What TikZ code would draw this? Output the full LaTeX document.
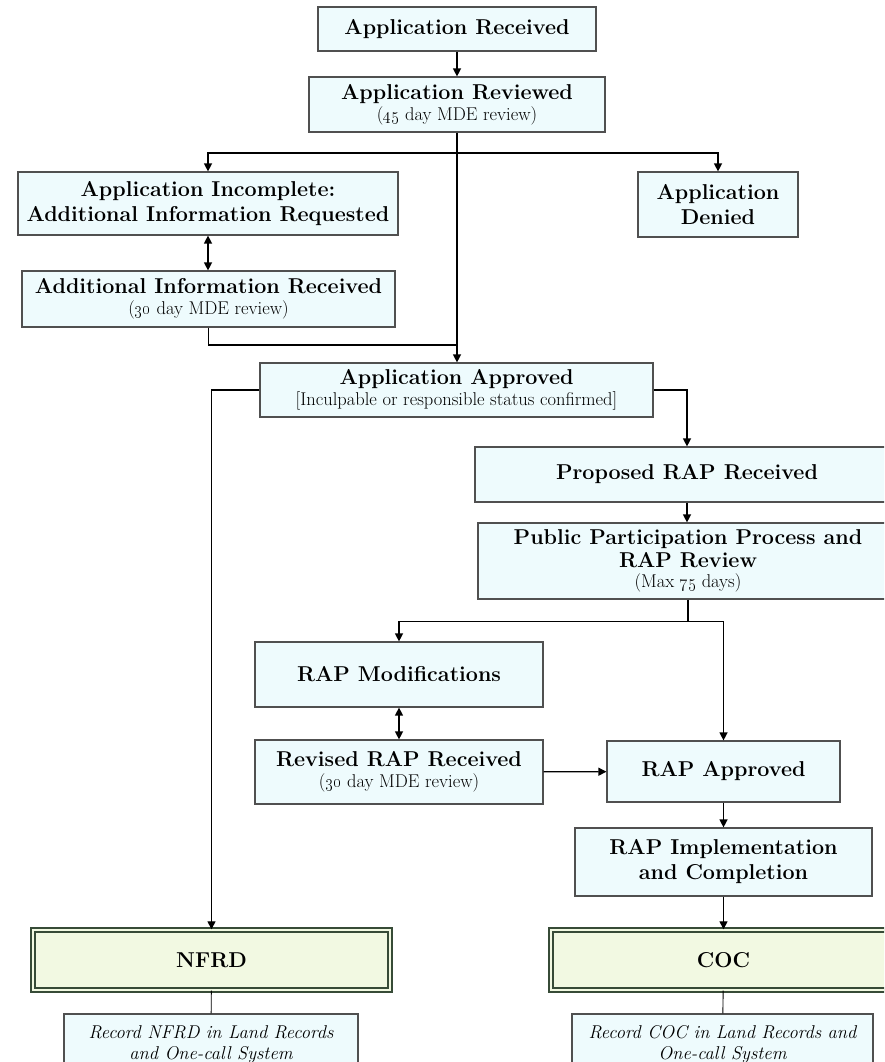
\documentclass[tikz,border=0pt]{standalone}
\usetikzlibrary{arrows.meta,calc}
\definecolor{boxfill}{RGB}{238,251,253}
\definecolor{boxline}{RGB}{80,80,80}
\definecolor{endfill}{RGB}{242,249,226}
\definecolor{endline}{RGB}{55,75,55}
\newcommand\titlefont{\fontsize{21.5}{25}\selectfont\bfseries}
\newcommand\subln[1]{{\fontsize{18.5}{20}\selectfont\mdseries #1}}
\tikzset{
    box/.style={draw=boxline,fill=boxfill,line width=1.2pt,align=center,inner sep=0pt,font=\titlefont},
    endbox/.style={box,draw=endline,fill=endfill,double=endfill,double distance=2.4pt,line width=1.4pt},
    recbox/.style={box,font=\fontsize{18.5}{21}\selectfont\itshape},
    arr/.style={-{Triangle[length=8pt,width=8pt]},line width=1.3pt},
    dblarr/.style={{Triangle[length=8pt,width=8pt]}-{Triangle[length=8pt,width=8pt]},line width=1.3pt},
    link/.style={line width=1.3pt},
  }
\begin{document}
\begin{tikzpicture}[x=1pt,y=-1pt]
	          %cadre de l'image (pixels, y vers le bas)
	          \useasboundingbox (0,0) rectangle (884,1062);
	          \clip (0,0) rectangle (884,1062);
	          \fill[white] (0,0) rectangle (884,1062);

	          %demande
	          \node[box,minimum width=278,minimum height=44] (recv) at (457,29) {Application Received};
	          \node[box,minimum width=296,minimum height=55] (rev) at (457,104.5) {Application Reviewed\\[-4pt]\subln{(\oldstylenums{45} day MDE review)}};
	          \node[box,minimum width=380,minimum height=63] (incomp) at (208,203.5) {Application Incomplete:\\Additional Information Requested};
	          \node[box,minimum width=373,minimum height=56] (addl) at (208.5,299) {Additional Information Received\\[-4pt]\subln{(\oldstylenums{30} day MDE review)}};
	          \node[box,minimum width=160,minimum height=65] (denied) at (718,204.5) {Application\\Denied};
	          \node[box,minimum width=393,minimum height=54] (appr) at (456.5,390) {Application Approved\\[-4pt]\subln{[Inculpable or responsible status confirmed]}};

	          %RAP
	          \node[box,minimum width=424,minimum height=55] (prop) at (687,474.5) {Proposed RAP Received};
	          \node[box,minimum width=420,minimum height=76] (pub) at (688,561) {Public Participation Process and\\[-2pt]RAP Review\\[-5pt]\subln{(Max \oldstylenums{75} days)}};
	          \node[box,minimum width=288,minimum height=65] (mod) at (399,674.5) {RAP Modifications};
	          \node[box,minimum width=288,minimum height=64] (rev2) at (399,772) {Revised RAP Received\\[-4pt]\subln{(\oldstylenums{30} day MDE review)}};
	          \node[box,minimum width=233,minimum height=61] (rapok) at (723.5,771.5) {RAP Approved};
	          \node[box,minimum width=297,minimum height=68] (impl) at (723.5,862) {RAP Implementation\\and Completion};

	          %fin
	          \node[endbox,minimum width=357,minimum height=60] (nfrd) at (211.5,960) {NFRD};
	          \node[endbox,minimum width=345,minimum height=60] (coc) at (723.5,960) {COC};
	          \node[recbox,minimum width=294,minimum height=61] (recnfrd) at (211,1044.5) {Record NFRD in Land Records\\and One-call System};
	          \node[recbox,minimum width=301,minimum height=61] (reccoc) at (722.5,1044.5) {Record COC in Land Records and\\One-call System};

	          %embranchements
	          \coordinate (fork1) at (457,153);
	          \coordinate (join1) at (457,345);
	          \path (pub.south) ++(0,22) coordinate (fork2);

	          \draw[arr] (recv) -- (rev);
	          \draw[arr] (rev.south) -- (rev.south |- appr.north);
	          \draw[arr] (fork1) -| (incomp.north);
	          \draw[arr] (fork1) -| (denied.north);
	          \draw[dblarr] (incomp.south) -- (incomp.south |- addl.north);
	          \draw[link] (addl.south) |- (join1);
	          \draw[arr] (appr.west) -| (nfrd.north);
	          \draw[arr] (appr.east) -| (prop.north);
	          \draw[arr] (prop.south) -- (prop.south |- pub.north);
	          \draw[link] (pub.south) -- (fork2);
	          \draw[arr] (fork2) -| (mod.north);
	          \draw[arr] (fork2) -| (rapok.north);
	          \draw[dblarr] (mod) -- (rev2);
	          \draw[arr] (rev2) -- (rapok);
	          \draw[arr] (rapok) -- (impl);
	          \draw[arr] (impl) -- (coc);
	          \draw[link,line width=0.9pt] (nfrd) -- (recnfrd);
	          \draw[link,line width=0.9pt] (coc) -- (reccoc);
\end{tikzpicture}
\end{document}
